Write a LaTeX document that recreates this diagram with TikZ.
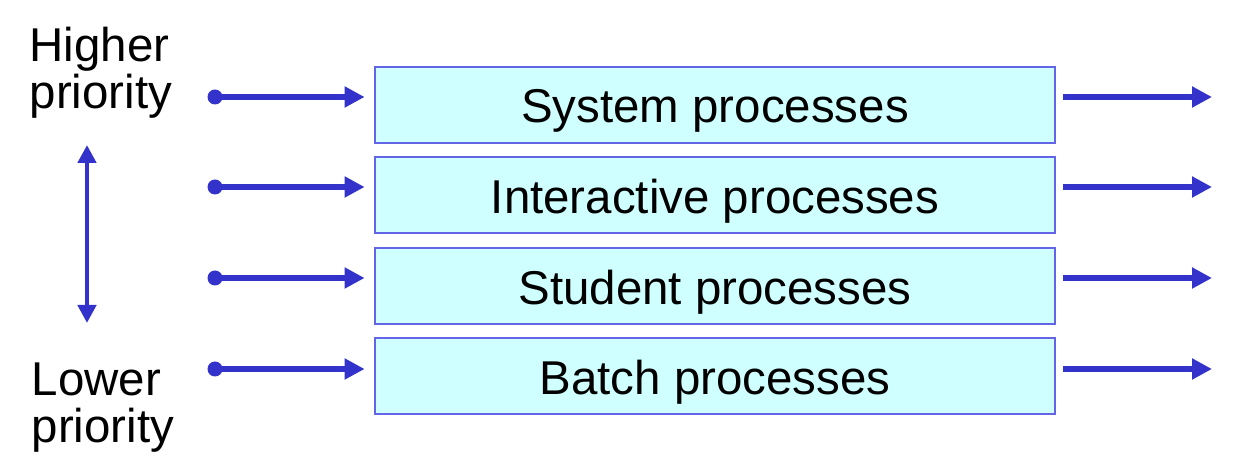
\documentclass[tikz,border=0pt]{standalone}
\usepackage{fontspec}
\setmainfont{Liberation Sans}
\usetikzlibrary{arrows.meta}
\definecolor{arrowblue}{RGB}{51,51,204}
\definecolor{boxfill}{RGB}{208,255,255}
\definecolor{boxline}{RGB}{100,100,230}
\tikzset{
  queue/.style={draw=boxline, line width=0.8pt, fill=boxfill, minimum width=6.8cm,
    minimum height=0.76cm, inner sep=0pt, font=\fontsize{13.5}{16}\selectfont},
  qtext/.style={inner sep=0pt, font=\fontsize{13.5}{16}\selectfont},
  flow/.style={arrowblue, line width=1.7pt, -{Triangle[length=2mm,width=2mm]}},
  label/.style={align=left, anchor=west, inner sep=0pt, font=\fontsize{13.5}{13.4}\selectfont}
}
\begin{document}
\begin{tikzpicture}
      \useasboundingbox (0, 0) rectangle (12.56, 4.68);
      \node[queue] (sys) at (7.15, 3.63) {};
      \node[queue] (inter) at (7.15, 2.73) {};
      \node[queue] (stud) at (7.15, 1.82) {};
      \node[queue] (batch) at (7.15, 0.92) {};
      \node[qtext] (systext) at ([yshift=-0.06cm]sys.center) {System processes};
      \node[qtext] (intertext) at ([yshift=-0.06cm]inter.center) {Interactive processes};
      \node[qtext] (studtext) at ([yshift=-0.06cm]stud.center) {Student processes};
      \node[qtext] (batchtext) at ([yshift=-0.06cm]batch.center) {Batch processes};
      \node[label] (high) at (0.29, 3.95) {Higher\\priority};
      \node[label] (low) at (0.31, 0.60) {Lower\\priority};
      % incoming and outgoing queues
      \coordinate (in1) at (2.15, 3.71);
      \coordinate (in2) at (2.15, 2.81);
      \coordinate (in3) at (2.15, 1.90);
      \coordinate (in4) at (2.15, 0.99);
      \coordinate (out1) at (12.12, 3.71);
      \coordinate (out2) at (12.12, 2.81);
      \coordinate (out3) at (12.12, 1.90);
      \coordinate (out4) at (12.12, 0.99);
      \draw[flow, shorten >=0.09cm] (in1) -- (in1 -| sys.west);
      \draw[flow, shorten >=0.09cm] (in2) -- (in2 -| inter.west);
      \draw[flow, shorten >=0.09cm] (in3) -- (in3 -| stud.west);
      \draw[flow, shorten >=0.09cm] (in4) -- (in4 -| batch.west);
      \fill[arrowblue] (in1) circle (0.075) (in2) circle (0.075) (in3) circle (0.075) (in4) circle (0.075);
      \draw[flow, shorten <=0.07cm] (out1 -| sys.east) -- (out1);
      \draw[flow, shorten <=0.07cm] (out2 -| inter.east) -- (out2);
      \draw[flow, shorten <=0.07cm] (out3 -| stud.east) -- (out3);
      \draw[flow, shorten <=0.07cm] (out4 -| batch.east) -- (out4);
      % priority axis
      \coordinate (top) at (0.87, 3.23);
      \coordinate (bot) at (0.87, 1.45);
      \draw[flow, line width=1.3pt, {Triangle[length=1.8mm,width=1.8mm]}-{Triangle[length=1.8mm,width=1.8mm]}] (top) -- (bot);
\end{tikzpicture}
\end{document}
